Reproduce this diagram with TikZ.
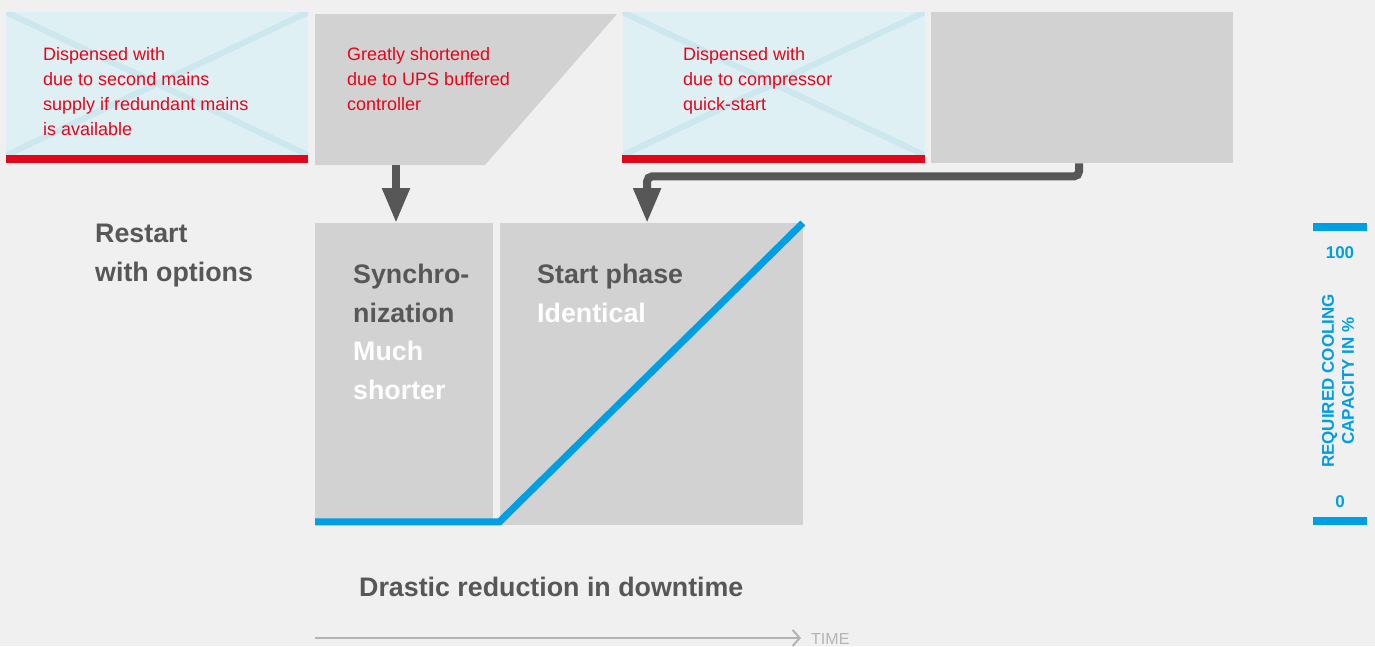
\documentclass[tikz,border=0pt]{standalone}
\usepackage{fontspec}
\setmainfont{Liberation Sans}
\usepackage{xcolor}
\usepackage{tikz}
\usetikzlibrary{shapes,arrows}
\usetikzlibrary{arrows.meta}
\usetikzlibrary{positioning}

\definecolor{bggrey}{HTML}{F0F0F0}
\definecolor{boxgrey}{HTML}{D2D2D2}
\definecolor{lightblue}{HTML}{DFF0F4}
\definecolor{crossblue}{HTML}{CDE7EE}
\definecolor{signalred}{HTML}{E3061A}
\definecolor{darkgrey}{HTML}{575757}
\definecolor{coolblue}{HTML}{009FE3}
\definecolor{timegrey}{HTML}{B4B4B4}

\begin{document}
\begin{tikzpicture}[x=1pt, y=-1pt]
        \tikzstyle{block} = [rectangle, fill=boxgrey, inner sep=0pt, minimum width=302pt, minimum height=151pt]
        \tikzstyle{skipped} = [block, fill=lightblue]
        \tikzstyle{remark} = [inner sep=0pt, anchor=north west, align=left, text=signalred, font={\fontsize{18}{25}\selectfont}]
        \tikzstyle{phasetext} = [inner sep=0pt, anchor=north west, align=left, text=darkgrey, font={\bfseries\fontsize{26.8}{38.5}\selectfont}]
        \tikzstyle{gauge} = [inner sep=0pt, text=coolblue, font={\bfseries\fontsize{17}{20}\selectfont}]
        \tikzstyle{line} = [draw=darkgrey, line width=8pt, -{Triangle[length=35pt, width=26pt]}]

        \useasboundingbox (0,0) rectangle (1375,646);
        \fill [bggrey] (0,0) rectangle (1375,646);
        \clip (0,0) rectangle (1375,646);

        \node [skipped, anchor=north west] (mainsskip) at (6,12) {};
        \node [skipped, right=314pt of mainsskip] (compressorskip) {};
        \node [block, right=6pt of compressorskip] (compressorstart) {};
        \fill [boxgrey] (315,14) -- (617,14) -- (485,165) -- (315,165) -- cycle;
        \coordinate (upsbottom) at (396,165);

        \begin{scope}
            \clip (mainsskip.north west) rectangle ([yshift=8pt]mainsskip.south east);
            \draw [crossblue, line width=6pt] (mainsskip.north west) -- ([yshift=8pt]mainsskip.south east)
                ([yshift=8pt]mainsskip.south west) -- (mainsskip.north east);
        \end{scope}
        \begin{scope}
            \clip (compressorskip.north west) rectangle ([yshift=8pt]compressorskip.south east);
            \draw [crossblue, line width=6pt] (compressorskip.north west) -- ([yshift=8pt]compressorskip.south east)
                ([yshift=8pt]compressorskip.south west) -- (compressorskip.north east);
        \end{scope}
        \fill [signalred] ([yshift=8pt]mainsskip.south west) rectangle (mainsskip.south east);
        \fill [signalred] ([yshift=8pt]compressorskip.south west) rectangle (compressorskip.south east);

        \node [remark] (mainstext) at (43,47) {Dispensed with\\due to second mains\\supply if redundant mains\\is available};
        \node [remark] (upstext) at (347,47) {Greatly shortened\\due to UPS buffered\\controller};
        \node [remark] (compressortext) at (683,47) {Dispensed with\\due to compressor\\quick-start};

        \node [block, minimum width=178pt, minimum height=302pt, anchor=north west] (synchronization) at (315,223) {};
        \node [block, minimum width=303pt, minimum height=302pt, right=6pt of synchronization] (startphase) {};

        \path [line] (upsbottom) -- (upsbottom |- synchronization.north);
        \path [line, rounded corners=5pt] ([xshift=-3pt]compressorstart.south) -- ++(0,13) -| ([xshift=-4pt]startphase.north);

        \draw [coolblue, line width=7pt] ([yshift=3.5pt]synchronization.south west) -- ([yshift=3.5pt]startphase.south west) -- (startphase.north east);

        \node [phasetext] (restarttext) at (95,224) {Restart\\with options};
        \node [phasetext] (synctext) at (353,264) {Synchro-\\nization\\\textcolor{white}{Much}\\\textcolor{white}{shorter}};
        \node [phasetext] (starttext) at (537,264) {Start phase\\\textcolor{white}{Identical}};
        \node [phasetext] (downtimetext) at (359,577) {Drastic reduction in downtime};

        \coordinate (timestart) at (315,638);
        \coordinate (timeend) at (801,638);
        \draw [timegrey, line width=2pt, -{Straight Barb[length=7pt, width=16pt]}] (timestart) -- (timeend);
        \node [anchor=base west, inner sep=0pt, text=timegrey, font={\fontsize{16}{16}\selectfont}] (timelabel) at (811,644) {TIME};

        \fill [coolblue] (1313,223) rectangle (1367,231);
        \fill [coolblue] (1313,517) rectangle (1367,525);
        \node [gauge, anchor=base] (fullmark) at (1340,258) {100};
        \node [gauge, anchor=base] (zeromark) at (1340,507) {0};
        \node [gauge, rotate=90, align=center] (gaugetitle) at (1338,381) {REQUIRED COOLING\\CAPACITY IN \%};
    \end{tikzpicture}
\end{document}
